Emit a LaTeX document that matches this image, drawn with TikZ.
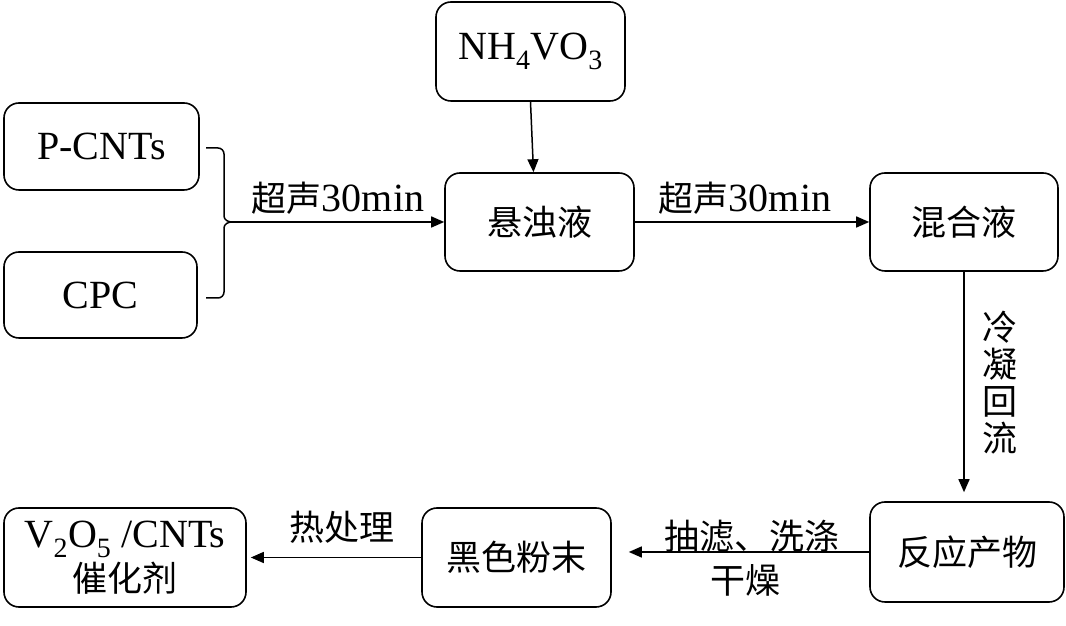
\documentclass[tikz,border=0pt]{standalone}
\usepackage{fontspec}
\setmainfont{Liberation Serif}
\newfontfamily\cjk{Noto Sans CJK SC}
\usetikzlibrary{arrows.meta}
\def\zh#1{{\cjk\fontsize{35}{40}\selectfont #1}}

\begin{document}
\begin{tikzpicture}[x=1pt,y=1pt,
	box/.style={draw, line width=1.6pt, rounded corners=15pt, inner sep=0pt, align=center,
		font=\fontsize{40}{42}\selectfont},
	flow/.style={line width=1.5pt, -{Triangle[length=13pt,width=11pt]}},
	lbl/.style={inner sep=0pt, align=center, font=\fontsize{40}{42}\selectfont}]
			%%%%% START %%%%%
			\useasboundingbox (0,0) rectangle (1066,626);
			
			% boxes
			\node[box, minimum width=195pt, minimum height=87pt] (pcnt) at (101.5,479.5) {P-CNTs};
			\node[box, minimum width=193pt, minimum height=86pt] (cpc) at (100.5,331) {CPC};
			\node[box, minimum width=189pt, minimum height=99pt] (nh) at (530.5,574.5) {NH\textsubscript{4}VO\textsubscript{3}};
			\node[box, minimum width=189pt, minimum height=98pt] (xzy) at (539.5,404) {\zh{悬浊液}};
			\node[box, minimum width=188pt, minimum height=98pt] (hhy) at (964,404) {\zh{混合液}};
			\node[box, minimum width=194pt, minimum height=100pt] (fycw) at (967,74) {\zh{反应产物}};
			\node[box, minimum width=189pt, minimum height=99pt] (hsfm) at (516.5,68.5) {\zh{黑色粉末}};
			\node[box, minimum width=242pt, minimum height=99pt] (cat) at (125,68.5)
				{V\textsubscript{2}O\textsubscript{5} /CNTs\\[2pt]\zh{催化剂}};
			
			% brace
			\draw[line width=1.5pt, rounded corners=6pt] (206,478) -- (224,478) -- (224,410);
			\draw[line width=1.5pt] (224,410) to[out=-90,in=180] (232,404)
				to[out=180,in=90] (224,398);
			\draw[line width=1.5pt, rounded corners=6pt] (224,398) -- (224,328) -- (206,328);
			\coordinate (bt) at (232,404);
			
			% arrows
			\draw[flow] (bt) -- (xzy.west);
			\draw[flow] (nh.south) -- ([xshift=-6pt]xzy.north);
			\draw[flow] (xzy.east) -- (hhy.west);
			\draw[flow, shorten >=9pt] (hhy.south) -- (fycw.north -| hhy.south);
			\draw[flow, shorten >=17pt] (fycw.west) -- (fycw.west -| hsfm.east);
			\draw[flow, shorten >=4pt] (hsfm.west) -- (hsfm.west -| cat.east);
			
			% labels
			\node[lbl] (l1) at (338,428) {\zh{超声}30min};
			\node[lbl] (l2) at (745,428) {\zh{超声}30min};
			\node[lbl, font=\cjk\fontsize{35}{37}\selectfont] (l3) at (1000,243) {冷\\凝\\回\\流};
			\node[lbl] (l4) at (752,90) {\zh{抽滤、洗涤}};
			\node[lbl] (l5) at (745,46) {\zh{干燥}};
			\node[lbl] (l6) at (342,99) {\zh{热处理}};
			
			%%%%% END %%%%%
\end{tikzpicture}
\end{document}
